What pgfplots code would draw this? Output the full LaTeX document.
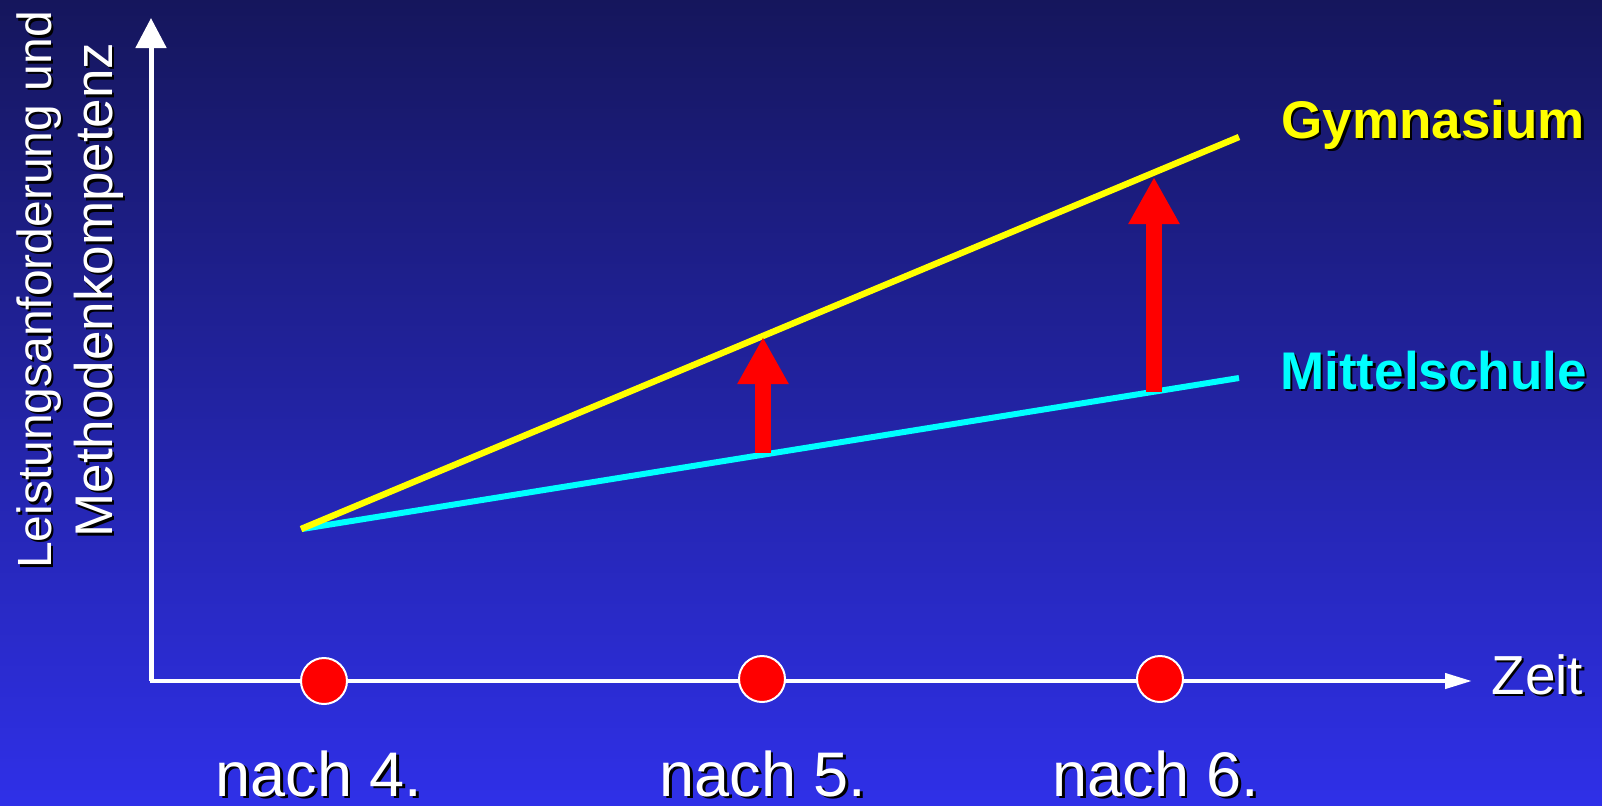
\documentclass[border=0pt]{standalone}
\usepackage{pgfplots}
\pgfplotsset{compat=1.18}
\usepackage{fontspec}
\setmainfont{Liberation Sans}
\usetikzlibrary{arrows.meta}

\definecolor{bgtop}{HTML}{15165C}
\definecolor{bgbot}{HTML}{2F30E8}
\definecolor{gymyellow}{RGB}{255,255,0}
\definecolor{mscyan}{RGB}{0,255,255}

% text with a small black drop shadow
\newcommand{\shadowtext}[5]{% x, y, options, colour, text
  \node[#3, inner sep=0pt, text=black] at (axis cs:#1+2.5,#2+2.5) {#5};
  \node[#3, inner sep=0pt, text=#4] at (axis cs:#1,#2) {#5};
}

\begin{document}
\begin{tikzpicture}
\begin{axis}[
    name=main,
    width=801pt, height=402.5pt,
    scale only axis,
    hide axis,
    clip=false,
    xmin=0, xmax=1602,
    ymin=0, ymax=805,
    y dir=reverse,
]
% background
\path[top color=bgtop, bottom color=bgbot] (axis cs:0,0) rectangle (axis cs:1602,805);

% axes arrows
\addplot[white, line width=2.5pt, -{Triangle[width=15pt,length=15pt]}]
    coordinates {(151,681) (151,18)};
\addplot[white, line width=2.1pt, -{Triangle[width=7.5pt,length=13.5pt]}]
    coordinates {(150,681) (1472,681)};

% the two lines
\addplot[mscyan, line width=3pt]
    coordinates {(302,529) (1239,378)};
\addplot[gymyellow, line width=3.2pt]
    coordinates {(301,529) (1239,137)};

% points on the time axis
\addplot[only marks, mark=*, mark size=11.5pt,
    mark options={fill=red, draw=white, line width=1pt}]
    coordinates {(324,681) (762,679) (1160,679)};

% red arrows
\addplot[red, line width=8pt, -{Triangle[width=24pt,length=23.5pt]}]
    coordinates {(763,453) (763,337)};
\addplot[red, line width=8pt, -{Triangle[width=24pt,length=23.5pt]}]
    coordinates {(1154,392) (1154,177)};

% labels
\shadowtext{1281}{138}{anchor=base west, font=\fontsize{26.5}{30}\selectfont\bfseries}{gymyellow}{Gymnasium}
\shadowtext{1280}{389}{anchor=base west, font=\fontsize{26.5}{30}\selectfont\bfseries}{mscyan}{Mittelschule}
\shadowtext{1491}{694}{anchor=base west, font=\fontsize{27.5}{30}\selectfont}{white}{Zeit}
\shadowtext{319}{796}{anchor=base, font=\fontsize{31.5}{34}\selectfont}{white}{nach 4.}
\shadowtext{763}{796}{anchor=base, font=\fontsize{31.5}{34}\selectfont}{white}{nach 5.}
\shadowtext{1156}{796}{anchor=base, font=\fontsize{31.5}{34}\selectfont}{white}{nach 6.}
\shadowtext{51}{290}{anchor=base, rotate=90, font=\fontsize{24}{30}\selectfont}{white}{Leistungsanforderung und}
\shadowtext{112}{290}{anchor=base, rotate=90, font=\fontsize{26.5}{30}\selectfont}{white}{Methodenkompetenz}
\end{axis}
\pgfresetboundingbox
\path[use as bounding box] (main.south west) rectangle (main.north east);
\end{tikzpicture}
\end{document}
